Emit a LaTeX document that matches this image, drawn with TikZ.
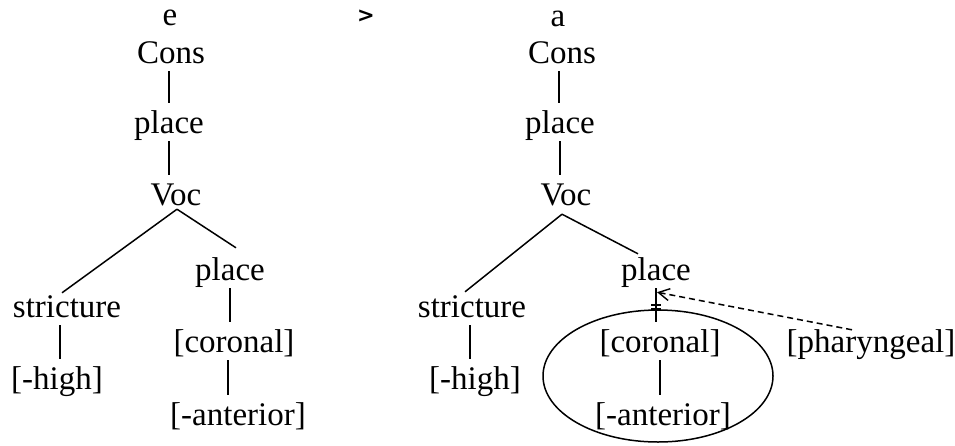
\documentclass[tikz,border=0pt]{standalone}
\usepackage{fontspec}
\setmainfont{Liberation Serif}
\newfontfamily\gtfont{DejaVu Sans}
\usetikzlibrary{arrows.meta,calc}
\begin{document}
\begin{tikzpicture}[x=1pt,y=-1pt,
  lab/.style={anchor=base,inner sep=0pt,text height=26pt,text depth=8pt,font=\fontsize{33}{38}\selectfont},
  vline/.style={line width=1.5pt,shorten >=4pt},
  br/.style={line width=1.5pt},
  hashmark/.style={line width=1.3pt},
  dasharrow/.style={line width=1.5pt,dash pattern=on 6pt off 4pt,-{Straight Barb[length=11pt,width=12pt,line width=1.4pt]}}]
\useasboundingbox (0,0) rectangle (955,445);
% top row
\node[lab] (e) at (170,25) {e};
\node[anchor=base,inner sep=0pt,font=\gtfont\bfseries\fontsize{21}{24}\selectfont] (gt) at (366,22) {>};
\node[lab] (a) at (558,26) {a};
% left tree
\node[lab] (cons1) at (171,63) {Cons};
\node[lab] (pl1) at (169,133) {place};
\node[lab] (voc1) at (176,205) {Voc};
\node[lab] (str1) at (67,317) {stricture};
\node[lab] (plb1) at (230,280) {place};
\node[lab] (hi1) at (57,389) {[-high]};
\node[lab] (cor1) at (234,352) {[coronal]};
\node[lab] (ant1) at (238,425) {[-anterior]};
\draw[vline] ([xshift=-2pt]cons1.south) -- ([xshift=-2pt]cons1.south |- pl1.north);
\draw[vline] (pl1.south) -- (pl1.south |- voc1.north);
\draw[br] ([xshift=1pt,yshift=4pt]voc1.south) -- ([xshift=-5pt,yshift=-2pt]str1.north);
\draw[br] ([xshift=1pt,yshift=4pt]voc1.south) -- ([xshift=6pt,yshift=6pt]plb1.north);
\draw[vline] ([xshift=-7pt]str1.south) -- ([xshift=-7pt]str1.south |- hi1.north);
\draw[vline] (plb1.south) -- (plb1.south |- cor1.north);
\draw[vline] ([xshift=-6pt]cor1.south) -- ([xshift=-6pt]cor1.south |- ant1.north);
% right tree
\node[lab] (cons2) at (562,63) {Cons};
\node[lab] (pl2) at (560,133) {place};
\node[lab] (voc2) at (566,205) {Voc};
\node[lab] (str2) at (472,317) {stricture};
\node[lab] (plb2) at (656,280) {place};
\node[lab] (hi2) at (475,389) {[-high]};
\node[lab] (cor2) at (660,352) {[coronal]};
\node[lab] (ant2) at (663,425) {[-anterior]};
\node[lab] (phar) at (871,352) {[pharyngeal]};
\draw[vline] ([xshift=-3pt]cons2.south) -- ([xshift=-3pt]cons2.south |- pl2.north);
\draw[vline] (pl2.south) -- (pl2.south |- voc2.north);
\draw[br] ([xshift=-4pt,yshift=-1pt]voc2.south) -- ([xshift=-7pt,yshift=-1pt]str2.north);
\draw[br] ([xshift=-4pt,yshift=-1pt]voc2.south) -- ([xshift=-18pt]plb2.north);
\draw[vline] ([xshift=-2pt]str2.south) -- ([xshift=-2pt]str2.south |- hi2.north);
\draw[vline] (plb2.south) -- (plb2.south |- cor2.north);
\coordinate (mid) at ($(plb2.south)!0.5!(plb2.south |- cor2.north)$);
\draw[hashmark] ([xshift=-5pt,yshift=2pt]mid) -- ([xshift=5pt,yshift=2pt]mid);
\draw[hashmark] ([xshift=-5pt,yshift=-2pt]mid) -- ([xshift=5pt,yshift=-2pt]mid);
\draw[vline] (cor2.south) -- (cor2.south |- ant2.north);
\draw[br] (658,376) ellipse [x radius=115pt, y radius=66pt];
\draw[dasharrow] ([xshift=-19pt,yshift=-4pt]phar.north) -- ([xshift=1pt,yshift=-4pt]plb2.south);
\end{tikzpicture}
\end{document}
